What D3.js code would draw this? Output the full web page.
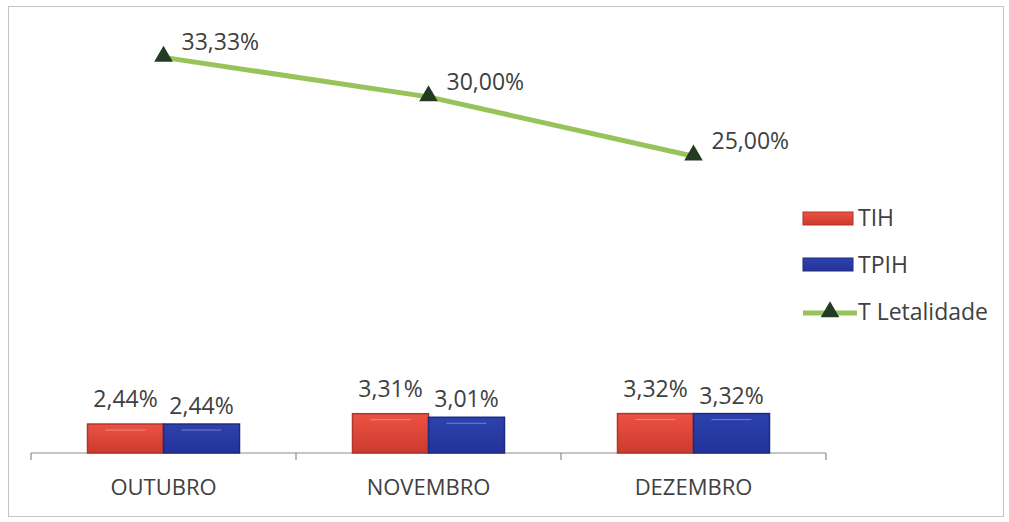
<!DOCTYPE html>
<html>
<head>
<meta charset="utf-8">
<script src="https://cdn.jsdelivr.net/npm/d3@7"></script>
<style>
  body { margin: 0; background: #fff; }
  svg text { font-family: "Open Sans", sans-serif; fill: #404040; }
</style>
</head>
<body>
<svg width="1009" height="522"></svg>
<script>
var months = ["OUTUBRO", "NOVEMBRO", "DEZEMBRO"];
var tih = [2.44, 3.31, 3.32];
var tpih = [2.44, 3.01, 3.32];
var letalidade = [33.33, 30.00, 25.00];
var seriesNames = ["TIH", "TPIH", "T Letalidade"];

var svg = d3.select("svg");
var fmt = function(v){ return v.toFixed(2).replace(".", ",") + "%"; };

// frame
svg.append("rect")
  .attr("x", 8.5).attr("y", 6.5)
  .attr("width", 995).attr("height", 510)
  .attr("fill", "none")
  .attr("stroke", "#c4c4c4");

var x = d3.scaleBand().domain(months).range([31, 826]).paddingInner(0).paddingOuter(0);
var y = d3.scaleLinear().domain([0, 35]).range([453, 453 - 35 * 11.87]);
var xs = d3.scaleBand().domain(["TIH", "TPIH"]).range([0, 152]);
var groupOff = (x.bandwidth() - 152) / 2;

// gradients for bars
var defs = svg.append("defs");
var grad = function(id, c1, c2){
  var g = defs.append("linearGradient").attr("id", id).attr("x1", 0).attr("y1", 0).attr("x2", 0).attr("y2", 1);
  g.append("stop").attr("offset", "0%").attr("stop-color", c1);
  g.append("stop").attr("offset", "100%").attr("stop-color", c2);
};
grad("gRed", "#ec5242", "#cc3a2e");
grad("gBlue", "#2d42ad", "#22339a");

// axis
var axis = svg.append("g").attr("transform", "translate(0,453)");
axis.append("line").attr("x1", 31).attr("x2", 826).attr("stroke", "#8c8c8c").attr("stroke-width", 1.2);
var ticks = months.map(function(m){ return x(m); }).concat([x(months[2]) + x.bandwidth()]);
axis.selectAll(".tk").data(ticks).enter().append("line")
  .attr("x1", function(d){ return d; }).attr("x2", function(d){ return d; })
  .attr("y1", 0).attr("y2", 7)
  .attr("stroke", "#8c8c8c").attr("stroke-width", 1.2);
axis.selectAll(".lbl").data(months).enter().append("text")
  .attr("x", function(d){ return x(d) + x.bandwidth() / 2; })
  .attr("y", 42)
  .attr("text-anchor", "middle")
  .attr("font-size", 22)
  .text(function(d){ return d; });

// bars
var drawBars = function(vals, key, fill, stroke, dy){
  var g = svg.append("g");
  g.selectAll("rect").data(vals).enter().append("rect")
    .attr("x", function(d, i){ return x(months[i]) + groupOff + xs(key); })
    .attr("y", function(d){ return y(d); })
    .attr("width", xs.bandwidth())
    .attr("height", function(d){ return y(0) - y(d); })
    .attr("fill", fill)
    .attr("stroke", stroke)
    .attr("stroke-width", 1.5);
  g.selectAll("line").data(vals).enter().append("line")
    .attr("x1", function(d, i){ return x(months[i]) + groupOff + xs(key) + 18; })
    .attr("x2", function(d, i){ return x(months[i]) + groupOff + xs(key) + xs.bandwidth() - 18; })
    .attr("y1", function(d){ return y(d) + 6; })
    .attr("y2", function(d){ return y(d) + 6; })
    .attr("stroke", "#ffffff").attr("stroke-opacity", 0.35).attr("stroke-width", 1);
  g.selectAll("text").data(vals).enter().append("text")
    .attr("x", function(d, i){ return x(months[i]) + groupOff + xs(key) + xs.bandwidth() / 2; })
    .attr("y", function(d){ return y(d) - dy; })
    .attr("text-anchor", "middle")
    .attr("font-size", 23)
    .text(fmt);
};
drawBars(tih, "TIH", "url(#gRed)", "#b0352a", 17);
drawBars(tpih, "TPIH", "url(#gBlue)", "#1c2b80", 10);

// line
var cx = function(d, i){ return x(months[i]) + x.bandwidth() / 2; };
var line = d3.line().x(cx).y(function(d){ return y(d); });
svg.append("path").datum(letalidade)
  .attr("d", line)
  .attr("fill", "none")
  .attr("stroke", "#98c35a")
  .attr("stroke-width", 5);
var tri = d3.symbol().type(d3.symbolTriangle).size(150);
svg.selectAll(".mk").data(letalidade).enter().append("path")
  .attr("d", tri)
  .attr("transform", function(d, i){ return "translate(" + cx(d, i) + "," + (y(d) - 1) + ")"; })
  .attr("fill", "#233b22");
svg.selectAll(".ll").data(letalidade).enter().append("text")
  .attr("x", function(d, i){ return cx(d, i) + 18; })
  .attr("y", function(d){ return y(d) - 7; })
  .attr("font-size", 23)
  .text(fmt);

// legend
var leg = svg.append("g").attr("transform", "translate(803,0)");
leg.append("rect").attr("x", 0).attr("y", 212).attr("width", 50).attr("height", 13)
  .attr("fill", "url(#gRed)").attr("stroke", "#b0352a");
leg.append("rect").attr("x", 0).attr("y", 258).attr("width", 50).attr("height", 13)
  .attr("fill", "url(#gBlue)").attr("stroke", "#1c2b80");
leg.append("line").attr("x1", 0).attr("x2", 54).attr("y1", 313).attr("y2", 313)
  .attr("stroke", "#98c35a").attr("stroke-width", 5);
leg.append("path").attr("d", tri).attr("transform", "translate(27,312)").attr("fill", "#233b22");
leg.selectAll("text").data(seriesNames).enter().append("text")
  .attr("x", 55)
  .attr("y", function(d, i){ return 226 + i * 47; })
  .attr("font-size", 23)
  .text(function(d){ return d; });
</script>
</body>
</html>
